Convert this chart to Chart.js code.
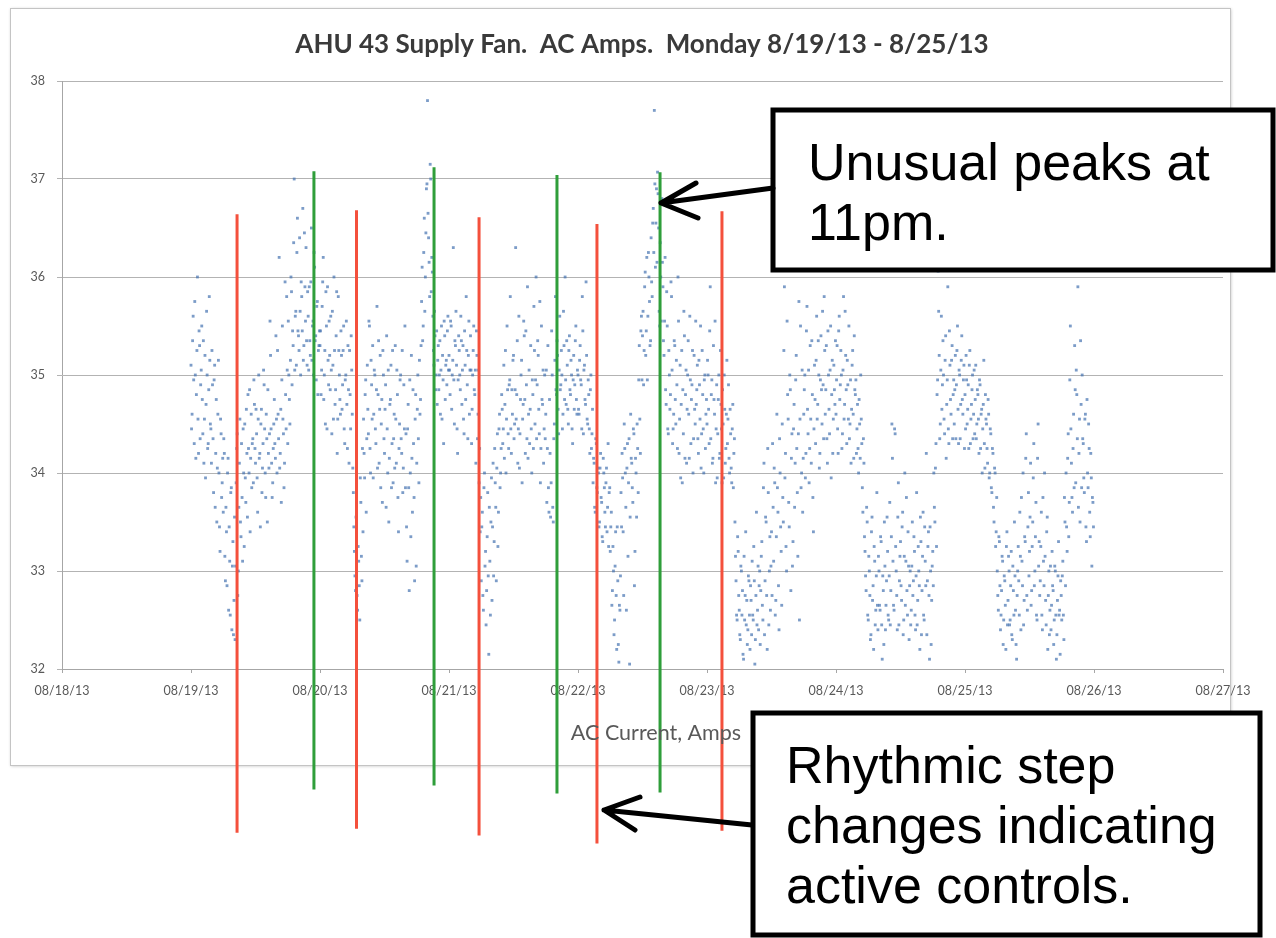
<!DOCTYPE html>
<html>
<head>
<meta charset="utf-8">
<title>AHU 43 Supply Fan</title>
<script src="https://cdn.jsdelivr.net/npm/chart.js@4.4.0/dist/chart.umd.min.js"></script>
<style>
  html, body { margin: 0; padding: 0; background: #ffffff; }
  #wrap { position: absolute; left: 0; top: 0; width: 1276px; height: 938px; }
</style>
</head>
<body>
<div id="wrap"><canvas id="ampChart"></canvas></div>
<script>
// x axis: days since 08/18/13, one label per day
const dateLabels = ['08/18/13', '08/19/13', '08/20/13', '08/21/13', '08/22/13',
                    '08/23/13', '08/24/13', '08/25/13', '08/26/13', '08/27/13'];

// AC amps, one reading every 12 minutes (120 per day) ...
const mon19 = [
    35.1, 34.6, 35.6, 34.3, 35.0, 34.8, 36.0, 34.2, 35.3, 34.9,
    35.5, 34.4, 34.1, 35.2, 34.7, 35.0, 34.3, 35.8, 34.5, 34.1,
    34.9, 33.8, 35.1, 34.2, 33.5, 34.6, 34.0, 33.2, 34.4, 33.9,
    33.6, 34.2, 32.9, 33.4, 34.0, 32.6, 33.1, 33.8, 32.4, 33.3,
    32.7, 32.3, 33.9, 34.4, 33.0, 34.1, 33.5, 34.3, 33.1, 34.0,
    34.5, 33.7, 34.2, 34.8, 34.0, 33.4, 34.6, 34.3, 33.9, 34.7,
    34.1, 34.4, 33.6, 35.0, 34.2, 34.5, 33.8, 34.3, 34.9, 34.0,
    34.6, 33.5, 34.2, 34.4, 35.2, 34.1, 33.9, 34.5, 34.3, 35.4,
    34.0, 34.6, 36.2, 34.2, 33.7, 35.5, 34.4, 34.1, 34.8, 35.8,
    34.3, 35.0, 34.5, 36.0, 34.9, 35.3, 37.0, 35.6, 35.1, 36.6,
    35.4, 36.4, 35.0, 35.8, 36.7, 35.3, 35.9, 36.3, 35.1, 35.6,
    35.9, 35.2, 36.5, 35.5, 35.0, 36.1, 35.4, 35.7, 34.8, 35.3
];
const tue20 = [
    35.3, 34.8, 35.7, 36.2, 35.0, 34.5, 35.5, 35.9, 34.9, 35.2,
    35.6, 34.4, 35.1, 36.0, 34.7, 35.4, 34.2, 35.8, 35.0, 34.6,
    35.2, 34.9, 35.5, 34.3, 35.0, 34.7, 35.3, 34.1, 34.8, 35.4,
    34.6, 33.8, 33.2, 32.8, 33.5, 32.6, 33.1, 32.5, 33.7, 32.9,
    33.4, 34.2, 34.8, 33.6, 35.1, 34.4, 35.5, 34.0, 34.9, 35.3,
    34.6, 35.0, 34.3, 35.7, 34.8, 34.1, 35.2, 34.5, 33.7, 35.0,
    34.2, 34.9, 35.4, 34.0, 33.5, 34.7, 35.1, 34.3, 33.9, 34.6,
    35.3, 34.1, 34.8, 33.4, 34.5, 35.0, 34.2, 33.8, 34.9, 35.5,
    34.4, 33.1, 34.7, 32.8, 34.0, 35.2, 33.6, 34.3, 32.9, 34.8,
    34.1, 35.0, 33.9, 34.6, 35.3, 36.1, 35.5, 36.6, 36.0, 36.9,
    37.8, 36.4, 35.8, 37.0, 36.2, 35.6, 35.1, 35.4, 35.0, 34.7,
    35.3, 35.0, 34.6, 35.5, 35.2, 34.3, 35.4, 35.1, 34.9, 35.6
];
const wed21 = [
    35.2, 34.8, 35.5, 35.0, 36.3, 34.5, 35.3, 35.1, 34.2, 35.4,
    35.0, 35.6, 34.7, 35.3, 34.4, 35.1, 35.8, 34.9, 35.2, 34.6,
    35.4, 34.3, 35.0, 35.5, 34.8, 34.1, 35.2, 34.6, 33.9, 33.4,
    32.9, 33.6, 32.6, 34.0, 33.2, 32.8, 33.8, 32.15, 33.1, 33.5,
    32.7, 34.1, 33.3, 33.9, 32.9, 34.4, 33.6, 34.6, 34.0, 34.8,
    34.3, 35.1, 34.7, 34.0, 35.5, 34.4, 34.9, 35.8, 34.2, 34.6,
    35.2, 34.5, 36.3, 34.8, 34.1, 35.6, 34.4, 35.0, 33.9, 34.7,
    35.4, 34.2, 34.9, 35.9, 34.6, 34.3, 35.3, 34.0, 34.8, 35.7,
    34.5, 36.0, 34.9, 35.2, 34.4, 33.9, 35.5, 34.7, 34.1, 35.0,
    34.6, 33.7, 35.3, 33.6, 34.2, 33.9, 35.0, 33.5, 34.5, 35.8,
    34.8, 35.2, 34.4, 35.6, 34.9, 35.0, 34.6, 35.3, 36.0, 34.7,
    35.1, 34.5, 35.4, 34.8, 35.0, 34.3, 35.2, 34.9, 35.5, 34.6
];
const thu22 = [
    35.0, 34.6, 35.3, 34.9, 35.8, 34.4, 35.1, 34.7, 35.2, 34.5,
    34.8, 34.2, 35.0, 34.4, 33.9, 34.1, 33.6, 34.3, 33.8, 34.0,
    33.5, 34.2, 33.7, 33.3, 34.0, 33.6, 33.9, 33.4, 34.3, 33.8,
    33.2, 33.6, 32.8, 33.0, 32.5, 33.4, 32.2, 32.9, 32.07, 32.6,
    33.8, 34.2, 33.4, 34.5, 34.0, 32.6, 34.3, 33.9, 32.05, 34.6,
    34.1, 33.7, 34.4, 33.2, 34.0, 34.5, 33.8, 35.3, 34.2, 35.6,
    35.4, 34.9, 35.9, 35.2, 36.2, 35.6, 36.0, 35.3, 36.4, 35.8,
    36.7, 37.7, 36.1, 36.9, 37.07, 36.5, 35.5, 36.0, 36.8, 35.9,
    35.2, 36.2, 34.7, 35.5, 34.4, 35.0, 34.8, 35.8, 34.3, 34.6,
    35.3, 34.5, 34.9, 36.0, 34.2, 35.1, 34.7, 33.9, 34.4, 35.4,
    34.8, 34.1, 35.0, 34.6, 35.6, 34.3, 34.9, 34.0, 35.2, 34.5,
    34.7, 35.1, 34.2, 34.9, 35.5, 34.4, 34.8, 34.0, 35.0, 34.6
];
const fri23 = [
    34.5, 35.0, 34.3, 35.9, 34.8, 34.1, 35.3, 34.6, 33.9, 34.9,
    34.4, 35.0, 34.2, 34.7, 33.9, 34.5, 35.0, 34.1, 34.6, 34.3,
    34.9, 34.0, 34.4, 33.9, 34.7, 34.2, 33.5, 32.9, 32.5, 33.2,
    32.6, 32.3, 33.0, 32.8, 32.1, 32.5, 33.4, 32.7, 32.4, 32.9,
    32.2, 32.7, 33.1, 32.5, 32.9, 32.3, 33.6, 32.6, 32.4, 33.0,
    32.8, 33.3, 32.5, 34.1, 32.9, 33.5, 32.2, 33.8, 33.0, 32.6,
    33.4, 34.3, 33.1, 33.9, 32.7, 34.6, 33.6, 32.4, 34.0, 33.2,
    34.5, 33.5, 35.9, 34.2, 33.0, 34.8, 33.7, 35.0, 32.8, 34.4,
    33.3, 34.7, 34.1, 35.2, 33.8, 34.4, 32.5, 35.5, 34.0, 33.6,
    34.6, 35.0, 34.2, 35.7, 34.4, 33.9, 35.3, 34.1, 34.8, 33.4,
    35.1, 34.3, 35.6, 34.7, 35.0, 34.2, 35.4, 34.5, 34.9, 35.8,
    34.6, 35.3, 34.1, 35.0, 34.4, 35.5, 34.8, 34.2, 35.1, 34.7
];
const sat24 = [
    34.6, 35.3, 34.2, 35.6, 34.9, 35.0, 34.4, 35.8, 34.7, 35.2,
    34.3, 34.9, 35.5, 34.5, 34.1, 35.1, 34.6, 35.4, 34.8, 34.2,
    34.7, 34.0, 34.5, 35.0, 34.3, 33.6, 34.1, 33.2, 32.8, 33.5,
    32.5, 33.0, 32.3, 33.4, 32.7, 32.2, 33.1, 32.6, 33.8, 32.4,
    33.0, 32.6, 33.3, 32.1, 32.8, 33.5, 32.4, 32.9, 33.2, 32.5,
    33.7, 32.8, 34.5, 33.1, 32.6, 34.4, 33.0, 32.4, 33.9, 32.9,
    33.3, 32.7, 33.6, 32.5, 34.0, 33.1, 32.8, 33.4, 32.3, 33.0,
    32.6, 33.5, 32.9, 33.2, 32.4, 33.8, 32.7, 33.0, 32.2, 33.3,
    32.8, 33.6, 32.5, 33.1, 34.2, 32.9, 33.4, 32.1, 33.0, 32.7,
    33.2, 34.0, 33.5, 34.3, 34.8, 36.06, 35.2, 34.5, 35.6, 34.9,
    35.0, 34.4, 35.4, 34.7, 35.9, 34.3, 35.1, 34.6, 35.3, 34.8,
    34.5, 35.2, 34.9, 35.5, 34.3, 35.0, 34.7, 35.4, 34.6, 35.1
];
const sun25 = [
    34.8, 35.2, 34.5, 34.9, 35.1, 34.3, 34.7, 35.0, 34.6, 34.4,
    35.1, 34.5, 34.8, 34.2, 34.9, 34.6, 34.0, 34.7, 34.3, 34.8,
    34.5, 34.1, 34.6, 34.0, 34.4, 33.8, 34.2, 33.5, 34.0, 33.4,
    33.0, 32.6, 33.3, 32.4, 32.8, 33.1, 32.5, 32.9, 32.2, 33.4,
    32.7, 33.0, 32.5, 33.2, 32.3, 32.8, 33.5, 32.6, 32.1, 33.0,
    32.9, 33.6, 32.4, 33.1, 34.0, 32.7, 33.3, 34.4, 32.6, 33.8,
    33.2, 34.1, 32.8, 33.5, 34.3, 33.0, 33.7, 32.5, 34.5, 33.3,
    32.9, 33.6, 32.4, 33.1, 34.0, 32.7, 33.4, 32.2, 33.0, 32.6,
    32.4, 33.2, 32.8, 32.5, 33.0, 32.1, 32.7, 33.3, 32.6, 32.9,
    32.5, 33.1, 32.3, 33.5, 34.0, 33.2, 34.4, 33.7, 35.5, 34.1,
    33.6, 34.6, 35.3, 33.9, 34.8, 35.9, 34.2, 33.5, 34.7, 35.0,
    34.3, 33.8, 34.6, 33.3, 34.0, 34.5, 33.6, 34.2, 33.05, 33.7
];

// ... and the readings taken 6 minutes after each of those
const mon19Mid = [
    34.45, 35.35, 34.95, 35.75, 34.15, 35.25, 34.55, 35.45, 34.35, 35.05,
    34.75, 35.35, 34.55, 33.95, 35.65, 34.25, 34.85, 35.15, 34.45, 35.25,
    34.35, 34.95, 33.65, 34.75, 34.05, 35.15, 33.45, 34.55, 33.75, 34.15,
    34.35, 33.15, 33.65, 32.85, 34.15, 33.45, 32.55, 33.85, 33.05, 32.35,
    33.55, 33.05, 34.25, 32.75, 33.65, 34.55, 33.35, 33.75, 34.45, 33.25,
    33.95, 34.65, 33.55, 34.25, 34.85, 34.15, 33.85, 34.35, 34.95, 34.25,
    34.65, 33.95, 34.55, 34.15, 33.45, 34.65, 34.05, 35.05, 34.45, 33.75,
    34.35, 34.85, 34.05, 35.55, 34.45, 33.75, 34.25, 34.75, 34.15, 34.55,
    35.25, 34.35, 34.05, 34.65, 34.95, 34.55, 33.85, 35.95, 34.45, 35.05,
    35.55, 34.75, 35.15, 35.85, 35.45, 36.35, 35.05, 35.65, 36.25, 35.45,
    35.25, 35.65, 35.95, 35.45, 35.15, 36.45, 35.55, 35.35, 35.85, 35.05,
    35.35, 35.95, 35.15, 35.55, 36.25, 35.35, 34.95, 35.75, 35.25, 35.45
];
const tue20Mid = [
    35.45, 35.05, 35.95, 34.75, 35.25, 35.85, 34.45, 35.15, 35.55, 34.85,
    35.05, 35.65, 34.55, 35.25, 34.85, 35.85, 34.55, 35.25, 34.75, 35.45,
    34.65, 35.25, 34.45, 34.95, 35.55, 34.25, 34.85, 35.25, 34.45, 35.05,
    34.05, 33.45, 32.95, 33.55, 32.75, 33.25, 32.85, 33.95, 33.15, 34.25,
    34.55, 33.95, 34.95, 34.35, 34.65, 35.55, 34.25, 35.15, 34.55, 33.95,
    35.05, 34.45, 34.85, 34.05, 35.35, 34.65, 33.85, 34.75, 35.25, 34.35,
    34.65, 33.65, 34.45, 35.05, 34.15, 34.75, 33.85, 35.25, 34.35, 34.05,
    34.55, 35.05, 33.75, 34.25, 34.95, 34.35, 35.25, 34.05, 34.45, 33.85,
    33.45, 34.45, 33.85, 34.95, 33.35, 34.15, 34.85, 33.75, 34.55, 33.05,
    34.65, 34.35, 35.15, 34.75, 35.75, 35.35, 36.25, 35.65, 36.45, 36.95,
    36.65, 36.15, 37.15, 35.85, 36.05, 35.25, 35.65, 34.85, 35.45, 35.15,
    34.85, 35.35, 35.05, 34.55, 34.95, 35.55, 34.75, 35.15, 35.45, 35.05
];
const wed21Mid = [
    35.05, 35.55, 34.65, 35.15, 34.95, 35.35, 35.65, 34.45, 34.95, 35.25,
    34.85, 35.35, 35.05, 34.55, 35.45, 34.75, 35.25, 34.35, 35.55, 35.05,
    35.05, 34.65, 35.25, 34.85, 35.05, 35.45, 34.35, 35.05, 34.25, 33.75,
    33.45, 32.75, 33.85, 33.05, 32.45, 33.35, 32.95, 33.65, 32.55, 33.95,
    33.45, 32.95, 34.25, 33.65, 34.05, 33.25, 34.45, 33.85, 34.25, 34.65,
    34.45, 34.15, 35.25, 34.55, 34.85, 34.25, 34.95, 34.45, 34.85, 35.15,
    34.35, 34.85, 34.55, 35.35, 34.45, 34.05, 34.75, 35.15, 34.55, 35.55,
    34.75, 35.45, 34.35, 34.15, 35.05, 34.65, 34.45, 34.95, 34.25, 35.25,
    34.95, 34.35, 35.35, 34.65, 35.75, 34.25, 34.75, 35.05, 34.45, 34.35,
    35.05, 34.25, 33.85, 34.75, 33.55, 35.45, 33.65, 34.35, 35.15, 34.85,
    35.35, 34.65, 35.05, 34.85, 35.25, 34.45, 35.65, 34.75, 34.95, 35.35,
    34.65, 35.25, 34.85, 35.15, 34.45, 34.95, 34.65, 35.35, 34.75, 35.05
];
const thu22Mid = [
    34.65, 35.15, 34.95, 34.45, 35.45, 35.05, 34.75, 35.95, 34.55, 34.95,
    34.45, 34.85, 34.25, 34.65, 34.15, 33.65, 34.35, 33.85, 34.05, 33.45,
    34.05, 33.75, 33.35, 34.15, 33.85, 33.45, 34.05, 33.65, 33.25, 33.85,
    33.45, 32.65, 33.25, 32.35, 33.05, 32.75, 33.45, 32.25, 32.65, 32.95,
    33.45, 33.95, 32.75, 34.25, 33.65, 34.05, 33.15, 34.35, 33.55, 34.15,
    33.85, 34.45, 32.85, 34.15, 33.55, 34.25, 34.95, 34.55, 35.45, 34.95,
    35.65, 35.25, 36.05, 35.45, 34.95, 36.25, 35.75, 35.35, 35.95, 36.55,
    36.25, 36.95, 36.55, 36.15, 36.85, 35.65, 36.35, 35.55, 36.15, 35.35,
    35.55, 34.85, 35.85, 34.45, 35.25, 34.65, 35.95, 35.05, 34.45, 35.35,
    34.75, 35.15, 34.25, 35.55, 34.55, 33.95, 35.25, 34.85, 35.65, 34.15,
    35.05, 34.65, 35.35, 34.15, 34.95, 34.75, 35.25, 34.35, 34.65, 35.55,
    34.85, 34.35, 35.15, 34.55, 34.05, 35.25, 34.45, 34.95, 34.25, 34.75
];
const fri23Mid = [
    35.15, 34.65, 35.45, 34.35, 34.95, 34.15, 34.75, 35.55, 34.45, 33.95,
    34.75, 34.15, 35.25, 34.45, 34.85, 33.95, 34.65, 34.25, 35.15, 34.55,
    34.15, 34.65, 34.05, 34.45, 33.85, 34.35, 33.15, 32.55, 33.35, 32.75,
    32.35, 33.05, 32.55, 32.15, 33.15, 32.75, 32.45, 32.25, 32.95, 32.55,
    32.85, 32.35, 32.55, 33.25, 32.05, 32.75, 32.45, 33.05, 32.85, 32.25,
    33.15, 32.65, 33.85, 32.35, 33.55, 32.75, 34.25, 32.45, 33.35, 33.05,
    32.75, 33.65, 34.05, 32.55, 33.35, 33.85, 32.85, 34.35, 33.45, 32.65,
    33.75, 35.25, 33.95, 33.25, 35.55, 34.55, 33.45, 34.85, 34.15, 33.05,
    34.45, 33.65, 34.95, 34.25, 33.15, 35.75, 34.55, 33.85, 35.05, 34.15,
    34.85, 33.95, 35.45, 34.65, 35.05, 34.25, 34.55, 35.35, 33.75, 34.45,
    34.75, 35.15, 34.55, 35.35, 34.05, 34.95, 34.85, 35.65, 34.35, 35.25,
    34.85, 34.35, 35.45, 34.65, 35.05, 33.95, 35.15, 34.55, 34.85, 35.35
];
const sat24Mid = [
    34.95, 34.45, 35.45, 34.75, 35.25, 34.25, 35.05, 34.55, 35.65, 34.85,
    35.15, 34.55, 34.35, 34.95, 34.65, 35.25, 34.15, 34.85, 34.95, 34.45,
    34.25, 34.75, 34.15, 34.55, 33.85, 34.35, 33.35, 32.95, 33.65, 32.55,
    33.15, 32.75, 32.35, 33.55, 32.85, 33.25, 32.45, 32.95, 32.65, 33.15,
    32.65, 33.35, 32.45, 32.95, 32.25, 33.05, 32.65, 33.55, 32.55, 32.95,
    32.45, 33.35, 34.15, 32.65, 34.45, 33.25, 32.75, 33.55, 32.45, 33.15,
    32.85, 33.45, 32.35, 33.15, 32.65, 33.75, 32.55, 33.05, 32.85, 32.45,
    33.05, 32.75, 33.35, 32.55, 32.95, 32.45, 33.25, 32.85, 33.55, 32.35,
    33.15, 32.55, 33.45, 32.85, 32.35, 33.25, 32.75, 33.45, 32.25, 33.05,
    32.85, 33.65, 34.05, 33.25, 34.95, 35.65, 34.35, 35.05, 34.65, 35.35,
    34.55, 35.15, 34.15, 34.95, 34.45, 35.45, 34.75, 35.15, 34.35, 34.95,
    34.85, 34.35, 35.25, 34.65, 35.05, 34.35, 35.15, 34.75, 34.95, 34.25
];
const sun25Mid = [
    34.45, 34.95, 34.65, 34.25, 35.25, 34.55, 34.85, 34.35, 35.05, 34.75,
    34.35, 34.85, 34.55, 34.95, 34.25, 34.65, 34.45, 35.15, 34.05, 34.55,
    34.25, 34.75, 33.95, 34.45, 33.85, 34.25, 33.65, 34.05, 33.25, 33.75,
    32.75, 33.35, 32.85, 32.55, 33.15, 32.25, 32.95, 32.65, 33.25, 32.45,
    33.15, 32.45, 32.85, 32.35, 33.05, 32.55, 32.95, 32.25, 32.75, 33.25,
    32.55, 33.15, 33.75, 32.85, 32.45, 33.35, 34.15, 32.75, 33.45, 32.95,
    33.55, 32.65, 33.25, 33.95, 32.85, 33.35, 32.55, 34.15, 33.05, 32.75,
    33.25, 32.55, 33.75, 32.85, 33.15, 32.45, 33.55, 32.75, 32.35, 33.05,
    32.65, 32.85, 32.25, 33.05, 32.55, 32.35, 32.95, 32.55, 32.15, 32.75,
    32.95, 32.55, 33.75, 32.85, 33.45, 34.15, 33.35, 34.95, 34.45, 33.75,
    34.25, 33.85, 34.85, 35.05, 34.35, 33.65, 34.55, 35.35, 33.85, 34.35,
    33.95, 34.55, 33.45, 34.75, 33.85, 34.25, 33.35, 33.95, 33.75, 33.45
];

const weekReadings = [mon19, tue20, wed21, thu22, fri23, sat24, sun25];
const weekReadingsMid = [mon19Mid, tue20Mid, wed21Mid, thu22Mid, fri23Mid, sat24Mid, sun25Mid];
const firstDay = 1;          // 08/19/13
const readingsPerDay = 120;

// hand drawn step-change markers (days since 08/18/13, amps at each end)
const redTimes = [1.357, 2.283, 3.233, 4.147, 5.116];
const redTops = [36.64, 36.68, 36.61, 36.54, 36.67];
const redBottoms = [30.33, 30.37, 30.30, 30.22, 30.35];
const greenTimes = [1.953, 2.884, 3.837, 4.636];
const greenTops = [37.08, 37.12, 37.04, 37.07];
const greenBottoms = [30.77, 30.81, 30.73, 30.74];

// build the scatter points
const readings = [];
function addReadings(week, offset) {
    week.forEach((vals, d) => {
        vals.forEach((amps, i) => {
            readings.push({ x: firstDay + d + (i + offset) / readingsPerDay, y: amps });
        });
    });
}
addReadings(weekReadings, 0);
addReadings(weekReadingsMid, 0.5);

const datasets = [];
function addMarker(t, top, bottom, color) {
    datasets.push({
        type: 'line',
        data: [{ x: t, y: top }, { x: t, y: bottom }],
        borderColor: color,
        borderWidth: 3,
        pointRadius: 0,
        clip: false,
        order: 0
    });
}
redTimes.forEach((t, i) => addMarker(t, redTops[i], redBottoms[i], '#f4503c'));
greenTimes.forEach((t, i) => addMarker(t, greenTops[i], greenBottoms[i], '#2f9e3a'));
datasets.push({
    type: 'scatter',
    data: readings,
    pointStyle: 'rect',
    pointRadius: 2,
    borderWidth: 0,
    backgroundColor: 'rgba(68, 114, 176, 0.7)',
    order: 10
});

// frame, titles, callouts
const decorations = {
    id: 'decorations',
    beforeDraw(chart) {
        const ctx = chart.ctx;
        ctx.save();
        ctx.fillStyle = '#ffffff';
        ctx.fillRect(0, 0, chart.width, chart.height);
        ctx.shadowColor = 'rgba(0,0,0,0.25)';
        ctx.shadowBlur = 3;
        ctx.shadowOffsetX = 1;
        ctx.shadowOffsetY = 1;
        ctx.fillRect(10, 8, 1220, 757);
        ctx.shadowColor = 'transparent';
        ctx.strokeStyle = '#c4c4c4';
        ctx.lineWidth = 1;
        ctx.strokeRect(10.5, 8.5, 1220, 757);
        ctx.restore();
    },
    afterDraw(chart) {
        const ctx = chart.ctx;
        ctx.save();
        ctx.fillStyle = '#3a3a3a';
        ctx.textAlign = 'center';
        ctx.textBaseline = 'middle';
        ctx.font = 'bold 26px Lato';
        ctx.fillText('AHU 43 Supply Fan.  AC Amps.  Monday 8/19/13 - 8/25/13', 642, 45);
        ctx.fillStyle = '#595959';
        ctx.font = '21.5px Lato';
        ctx.fillText('AC Current, Amps', 656, 733);

        callout(ctx, 773, 110, 500, 160, ['Unusual peaks at', '11pm.'], 808, 180);
        callout(ctx, 753, 713, 507, 222, ['Rhythmic step', 'changes indicating', 'active controls.'], 786, 783);
        arrow(ctx, 773, 188, 661, 203, 696, 183, 698, 218);
        arrow(ctx, 752, 825, 604, 810, 640, 797, 635, 830);
        ctx.restore();
    }
};

function callout(ctx, x, y, w, h, lines, tx, ty) {
    ctx.fillStyle = '#ffffff';
    ctx.fillRect(x, y, w, h);
    ctx.strokeStyle = '#000000';
    ctx.lineWidth = 5;
    ctx.strokeRect(x, y, w, h);
    ctx.fillStyle = '#000000';
    ctx.font = '52px "Liberation Sans", Arial, sans-serif';
    ctx.textAlign = 'left';
    ctx.textBaseline = 'alphabetic';
    lines.forEach((s, i) => ctx.fillText(s, tx, ty + i * 60));
}

function arrow(ctx, x0, y0, x1, y1, ax, ay, bx, by) {
    ctx.strokeStyle = '#000000';
    ctx.lineWidth = 5;
    ctx.lineCap = 'round';
    ctx.lineJoin = 'round';
    ctx.beginPath();
    ctx.moveTo(x0, y0);
    ctx.lineTo(x1, y1);
    ctx.moveTo(ax, ay);
    ctx.lineTo(x1, y1);
    ctx.lineTo(bx, by);
    ctx.stroke();
}

const ctx = document.getElementById('ampChart').getContext('2d');
const ampChart = new Chart(ctx, {
    type: 'scatter',
    data: { datasets: datasets },
    options: {
        responsive: true,
        maintainAspectRatio: false,
        animation: false,
        layout: { padding: { top: 81, left: 0, right: 53, bottom: 229 } },
        plugins: {
            legend: { display: false },
            tooltip: { enabled: false },
            title: { display: false }
        },
        scales: {
            x: {
                type: 'linear',
                min: 0,
                max: 9,
                afterFit: function (scale) { scale.height = 40; },
                ticks: {
                    stepSize: 1,
                    autoSkip: false,
                    maxRotation: 0,
                    padding: 10,
                    color: '#595959',
                    font: { family: 'Lato', size: 12.5 },
                    callback: function (value) { return dateLabels[value]; }
                },
                grid: { drawOnChartArea: false, drawTicks: true, tickLength: 4, color: '#a6a6a6' },
                border: { color: '#a6a6a6' }
            },
            y: {
                min: 32,
                max: 38,
                afterFit: function (scale) { scale.width = 62; },
                ticks: {
                    stepSize: 1,
                    padding: 12,
                    color: '#595959',
                    font: { family: 'Lato', size: 12.5 }
                },
                grid: { color: '#b3b3b3', tickLength: 5 },
                border: { color: '#a6a6a6' }
            }
        }
    },
    plugins: [decorations]
});
</script>
</body>
</html>
